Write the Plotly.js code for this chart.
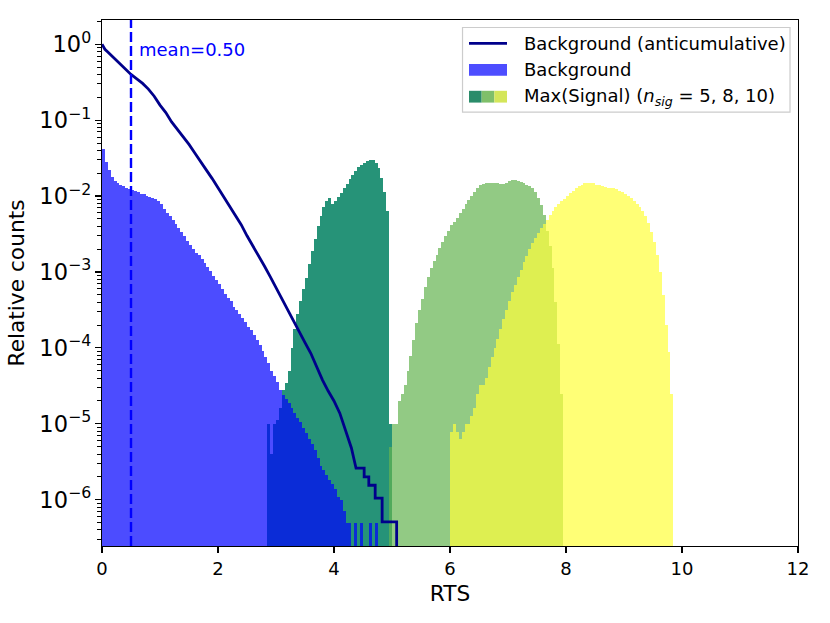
<!DOCTYPE html>
<html>
<head>
<meta charset="utf-8">
<script src="https://cdn.plot.ly/plotly-3.0.1.min.js"></script>
<style>
  html, body { margin: 0; padding: 0; background: #fff; }
  #chart { width: 830px; height: 623px; }
</style>
</head>
<body>
<div id="chart"></div>
<script>
// Histogram binning (RTS)
const BIN = 0.05;

// Background histogram, bins starting at 0.0
const bgStart = 0.0;
const bgCounts = [
  4.2e-2, 2.8e-2, 2.2e-2, 1.8e-2, 1.6e-2, 1.48e-2, 1.41e-2, 1.35e-2, 1.29e-2, 1.23e-2,
  1.2e-2, 1.15e-2, 1.12e-2, 1.07e-2, 1.05e-2, 1.0e-2, 9.8e-3, 9.3e-3, 9.1e-3, 8.7e-3,
  7.8e-3, 6.8e-3, 6.0e-3, 5.4e-3, 4.8e-3, 4.3e-3, 3.8e-3, 3.4e-3, 3.0e-3, 2.6e-3,
  2.3e-3, 2.0e-3, 1.8e-3, 1.66e-3, 1.48e-3, 1.32e-3, 1.15e-3, 1.02e-3, 8.9e-4, 7.9e-4,
  6.9e-4, 6.0e-4, 5.2e-4, 4.6e-4, 4.1e-4, 3.5e-4, 3.2e-4, 2.8e-4, 2.5e-4, 2.2e-4,
  1.9e-4, 1.7e-4, 1.48e-4, 1.29e-4, 1.1e-4, 9.1e-5, 7.6e-5, 6.3e-5, 5.0e-5, 4.2e-5,
  3.6e-5, 2.8e-5, 2.4e-5, 2.1e-5, 1.9e-5, 1.6e-5, 1.4e-5, 1.2e-5, 1.05e-5, 8.9e-6,
  7.6e-6, 6.3e-6, 5.4e-6, 4.5e-6, 3.5e-6, 2.8e-6, 2.5e-6, 2.1e-6, 1.8e-6, 1.6e-6,
  1.4e-6, 1.1e-6, 1.0e-6, 7e-7, 5e-7, 5e-7, null, 5e-7, null, 5e-7,
  null, null, 5e-7, null, 5e-7
];

// Max(Signal), n_sig = 5
const sig5Start = 2.85;
const sig5Counts = [
  1.0e-5, 4.0e-6, 1.0e-5, 1.12e-5, 1.6e-5, 2.8e-5, 3.5e-5, 5.0e-5, 1.0e-4, 1.78e-4,
  2.8e-4, 4.2e-4, 6.0e-4, 8.3e-4, 1.26e-3, 1.9e-3, 2.75e-3, 4.0e-3, 5.5e-3, 7.2e-3,
  8.7e-3, 9.3e-3, 7.9e-3, 8.7e-3, 9.8e-3, 1.1e-2, 1.26e-2, 1.45e-2, 1.66e-2, 1.9e-2,
  2.14e-2, 2.4e-2, 2.57e-2, 2.75e-2, 2.88e-2, 2.95e-2, 2.95e-2, 2.75e-2, 2.34e-2, 1.74e-2,
  1.12e-2, 6.3e-3, 1.0e-5
];

// Max(Signal), n_sig = 8
const sig8Start = 4.95;
const sig8Counts = [
  5.0e-6, 1.0e-5, 1.0e-5, 2.0e-5, 2.5e-5, 3.2e-5, 5.0e-5, 7.9e-5, 1.26e-4, 2.1e-4,
  3.2e-4, 4.4e-4, 6.3e-4, 8.5e-4, 1.12e-3, 1.38e-3, 1.7e-3, 2.1e-3, 2.5e-3, 3.0e-3,
  3.5e-3, 4.1e-3, 4.6e-3, 5.2e-3, 6.0e-3, 6.8e-3, 7.8e-3, 8.9e-3, 1.0e-2, 1.12e-2,
  1.26e-2, 1.38e-2, 1.45e-2, 1.48e-2, 1.51e-2, 1.51e-2, 1.51e-2, 1.48e-2, 1.45e-2, 1.45e-2,
  1.51e-2, 1.58e-2, 1.62e-2, 1.62e-2, 1.58e-2, 1.55e-2, 1.48e-2, 1.41e-2, 1.35e-2, 1.26e-2,
  1.12e-2, 9.5e-3, 7.6e-3, 5.6e-3, 3.5e-3, 2.2e-3, 1.12e-3, 4.0e-4, 1.12e-4, 2.5e-5
];

// Max(Signal), n_sig = 10
const sig10Start = 6.0;
const sig10Counts = [
  7.9e-6, 1.0e-5, 7.9e-6, 6.3e-6, 7.9e-6, 1.0e-5, 1.0e-5, 1.26e-5, 1.6e-5, 2.5e-5,
  3.2e-5, 3.2e-5, 4.0e-5, 5.6e-5, 7.6e-5, 1.0e-4, 1.32e-4, 1.78e-4, 2.4e-4, 3.2e-4,
  4.2e-4, 5.4e-4, 6.8e-4, 8.5e-4, 1.07e-3, 1.35e-3, 1.62e-3, 2.0e-3, 2.4e-3, 2.8e-3,
  3.3e-3, 3.8e-3, 4.3e-3, 4.9e-3, 5.6e-3, 6.3e-3, 7.1e-3, 7.8e-3, 8.5e-3, 9.1e-3,
  1.0e-2, 1.1e-2, 1.17e-2, 1.26e-2, 1.35e-2, 1.41e-2, 1.48e-2, 1.51e-2, 1.51e-2, 1.48e-2,
  1.41e-2, 1.38e-2, 1.35e-2, 1.32e-2, 1.29e-2, 1.29e-2, 1.26e-2, 1.23e-2, 1.17e-2, 1.12e-2,
  1.07e-2, 1.0e-2, 9.3e-3, 8.5e-3, 7.8e-3, 7.1e-3, 6.3e-3, 5.4e-3, 4.4e-3, 3.4e-3,
  2.5e-3, 1.66e-3, 1.0e-3, 5.0e-4, 2.0e-4, 8.9e-5, 2.5e-5
];

// Background anticumulative curve
const antiX = [0.0, 0.05, 0.1, 0.2, 0.3, 0.4, 0.5, 0.6, 0.7, 0.8, 0.9, 1.0, 1.1, 1.2, 1.3, 1.4,
  1.5, 1.6, 1.7, 1.8, 1.9, 2.0, 2.1, 2.2, 2.3, 2.4, 2.5, 2.6, 2.7, 2.8, 2.9, 3.0,
  3.1, 3.2, 3.3, 3.4, 3.5, 3.6, 3.7, 3.8, 3.9, 4.0, 4.1, 4.2, 4.3,
  4.38, 4.52, 4.52, 4.60, 4.60, 4.71, 4.71, 4.83, 4.83, 5.08, 5.08];
const antiY = [1.0, 0.86, 0.79, 0.67, 0.556, 0.48, 0.40, 0.35, 0.305, 0.257, 0.207, 0.158, 0.126, 0.095, 0.076, 0.062,
  0.048, 0.037, 0.029, 0.022, 0.017, 0.0129, 9.8e-3, 7.4e-3, 5.6e-3, 4.2e-3, 3.0e-3, 2.24e-3, 1.66e-3, 1.2e-3, 8.7e-4, 6.2e-4,
  4.4e-4, 3.1e-4, 2.24e-4, 1.62e-4, 1.17e-4, 8.5e-5, 5.6e-5, 3.8e-5, 2.7e-5, 2.0e-5, 1.38e-5, 7.9e-6, 4.8e-6,
  2.6e-6, 2.6e-6, 2.0e-6, 2.0e-6, 1.55e-6, 1.55e-6, 1.05e-6, 1.05e-6, 5.1e-7, 5.1e-7, 1e-9];

const meanRTS = 0.5;

// Axis ticks
const xTicks = [0, 2, 4, 6, 8, 10, 12];
const yRangeLog = [-6.61, 0.32];
const xRange = [0, 12];

const colors = {
  bg: 'rgba(0,0,255,0.7)',
  sig5: 'rgba(0,128,96,0.85)',
  sig8: 'rgba(100,180,80,0.7)',
  sig10: 'rgba(255,255,60,0.7)',
  anti: '#00008b',
  mean: '#0000ff'
};

function binCenters(start, counts) {
  return counts.map((_, i) => start + (i + 0.5) * BIN);
}

function histTrace(start, counts, color, name) {
  return {
    type: 'bar', name: name,
    x: binCenters(start, counts), y: counts,
    width: BIN,
    marker: { color: color, line: { width: 0 } },
    hoverinfo: 'skip'
  };
}

const traces = [
  histTrace(sig5Start, sig5Counts, colors.sig5, 'n_sig=5'),
  histTrace(sig8Start, sig8Counts, colors.sig8, 'n_sig=8'),
  histTrace(sig10Start, sig10Counts, colors.sig10, 'n_sig=10'),
  histTrace(bgStart, bgCounts, colors.bg, 'Background'),
  {
    type: 'scatter', mode: 'lines', name: 'Background (anticumulative)',
    x: antiX, y: antiY,
    line: { color: colors.anti, width: 2.8 },
    hoverinfo: 'skip'
  }
];

// Hand-built legend (matplotlib style, with the 3-colour patch)
const lg = { x0: 0.518, x1: 0.9885, y0: 0.825, y1: 0.9857 };
const sym = { x0: 0.5273, x1: 0.5819 };
const rows = [0.9557, 0.905, 0.8542];
const patchH = 0.0112;
const legendShapes = [
  { type: 'rect', xref: 'paper', yref: 'paper', x0: lg.x0, x1: lg.x1, y0: lg.y0, y1: lg.y1,
    fillcolor: 'rgba(255,255,255,0.8)', line: { color: '#cccccc', width: 1.2 } },
  { type: 'line', xref: 'paper', yref: 'paper', x0: sym.x0, x1: sym.x1, y0: rows[0], y1: rows[0],
    line: { color: colors.anti, width: 2.8 } },
  { type: 'rect', xref: 'paper', yref: 'paper', x0: sym.x0, x1: sym.x1, y0: rows[1] - patchH, y1: rows[1] + patchH,
    fillcolor: 'rgb(77,77,255)', line: { width: 0 } }
];
const patchCols = ['#2a8c6a', '#7fbf6a', '#d4e65a'];
const third = (sym.x1 - sym.x0) / 3;
patchCols.forEach((c, i) => {
  legendShapes.push({ type: 'rect', xref: 'paper', yref: 'paper',
    x0: sym.x0 + i * third, x1: sym.x0 + (i + 1) * third,
    y0: rows[2] - patchH, y1: rows[2] + patchH, fillcolor: c, line: { width: 0 } });
});
const legendTexts = ['Background (anticumulative)', 'Background',
  'Max(Signal) (<i>n</i><sub><i>sig</i></sub> = 5, 8, 10)'];
const legendAnn = legendTexts.map((t, i) => ({
  xref: 'paper', yref: 'paper', x: 0.603, y: rows[i], xanchor: 'left', yanchor: 'middle',
  text: t, showarrow: false, font: { size: 18, color: '#000' }
}));

const axisCommon = {
  ticks: 'outside', ticklen: 6, tickwidth: 1.2, tickcolor: '#000',
  showline: true, linecolor: '#000', linewidth: 1.2, mirror: true,
  showgrid: false, zeroline: false,
  tickfont: { size: 18, color: '#000' }
};

const layout = {
  width: 830, height: 623,
  margin: { l: 102, r: 32, t: 20, b: 77 },
  paper_bgcolor: '#fff', plot_bgcolor: '#fff',
  font: { family: 'DejaVu Sans, sans-serif', size: 18, color: '#000' },
  barmode: 'overlay', bargap: 0,
  showlegend: false,
  xaxis: Object.assign({}, axisCommon, {
    range: xRange, tickmode: 'array', tickvals: xTicks,
    title: { text: 'RTS', font: { size: 21.7 }, standoff: 8 }
  }),
  // decade ticks in power format; native minor ticks at 2..9 per decade
  yaxis: Object.assign({}, axisCommon, {
    type: 'log', range: yRangeLog,
    tickmode: 'linear', tick0: 0, dtick: 1,
    exponentformat: 'power', showexponent: 'all',
    labelalias: { '1': '10<sup>0</sup>', '10': '10<sup>1</sup>' },
    minor: { ticks: 'outside', ticklen: 4, tickwidth: 1, tickcolor: '#000', showgrid: false },
    title: { text: 'Relative counts', font: { size: 21.7 }, standoff: 8 }
  }),
  shapes: [
    { type: 'line', xref: 'x', yref: 'paper', x0: meanRTS, x1: meanRTS, y0: 0, y1: 1,
      line: { color: colors.mean, width: 2.4, dash: '10px,4px' } }
  ].concat(legendShapes),
  annotations: [
    { xref: 'x', yref: 'paper', x: meanRTS + 0.1, y: 0.943, xanchor: 'left', yanchor: 'middle',
      text: 'mean=' + meanRTS.toFixed(2), showarrow: false, font: { size: 18, color: colors.mean } }
  ].concat(legendAnn)
};

Plotly.newPlot('chart', traces, layout, { displayModeBar: false, staticPlot: true });
</script>
</body>
</html>
